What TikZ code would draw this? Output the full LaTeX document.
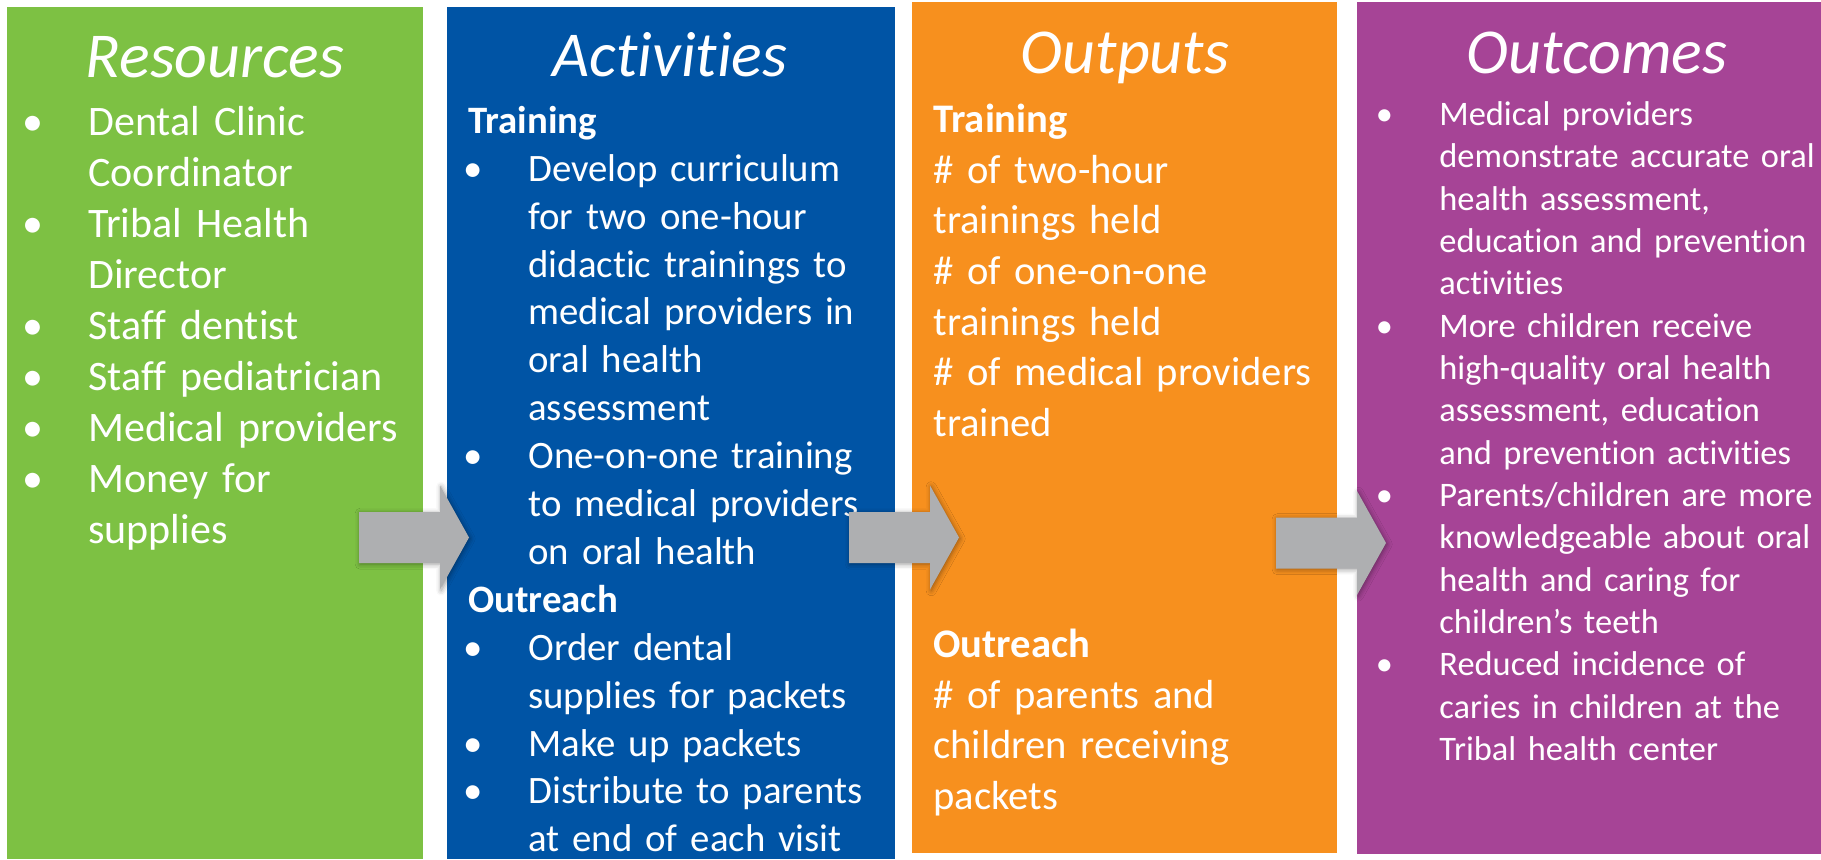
\documentclass[tikz,border=0pt]{standalone}
\usepackage{fontspec}
\setmainfont{Carlito}[Ligatures=NoCommon]
\usetikzlibrary{shadows.blur}

\definecolor{resgreen}{RGB}{125,193,67}
\definecolor{actblue}{RGB}{0,84,165}
\definecolor{outorange}{RGB}{247,144,30}
\definecolor{ocpurple}{RGB}{166,68,150}
\definecolor{arrowgray}{RGB}{174,175,177}

% bullet item: bullet hangs left, wrapped lines keep the indent
\newcommand\itm[1]{\par\noindent\hangindent=30pt\hangafter=0%
  \llap{\makebox[55pt][c]{\textbullet}}\strut#1}
\newcommand\hd[1]{\par\noindent\strut\textbf{#1}}

\tikzset{
  box/.style={fill=#1, inner sep=0pt, anchor=south west},
  title/.style={anchor=base, text=white, font=\fontsize{32}{38}\selectfont\itshape},
  body/.style={anchor=north west, inner sep=0pt, text=white, text width=#1, align=left},
  fatarrow/.pic={
    \fill[arrowgray, blur shadow={shadow xshift=0.6pt, shadow yshift=-0.6pt, shadow blur radius=2.5pt}]
      (0,25.5) -- (81,25.5) -- (81,52) -- (110,0) -- (81,-52) -- (81,-25.5) -- (0,-25.5) -- cycle;
  }
}

\begin{document}
\begin{tikzpicture}[x=0.5pt, y=0.5pt]
    \useasboundingbox (0,0) rectangle (1821,859);

    % the four columns
    \node[box=resgreen, minimum width=208pt, minimum height=426pt] (res) at (7,0) {};
    \node[box=actblue, minimum width=224pt, minimum height=426pt] (act) at (447,0) {};
    \node[box=outorange, minimum width=212.5pt, minimum height=425.5pt] (outp) at (912,6) {};
    \node[box=ocpurple, minimum width=232pt, minimum height=426pt] (outc) at (1357,5) {};

    % headings
    \node[title] (resTitle) at (215,781) {Resources};
    \node[title] (actTitle) at (670,782) {Activities};
    \node[title] (outpTitle) at (1125,785) {Outputs};
    \node[title] (outcTitle) at (1597,785) {Outcomes};

    % column texts
    \node[body=200pt, font=\fontsize{21}{25.5}\selectfont] (resText) at (28,775) {%
        \itm{Dental Clinic\newline Coordinator}
        \itm{Tribal Health\newline Director}
        \itm{Staff dentist}
        \itm{Staff pediatrician}
        \itm{Medical providers}
        \itm{Money for\newline supplies}\par};
    \node[body=220pt, font=\fontsize{19.4}{23.95}\selectfont] (actText) at (468,773.9) {%
        \hd{Training}
        \itm{Develop curriculum\newline for two one-hour\newline didactic trainings to\newline
             medical providers in\newline oral health\newline assessment}
        \itm{One-on-one training\newline to medical providers\newline on oral health}
        \hd{Outreach}
        \itm{Order dental\newline supplies for packets}
        \itm{Make up packets}
        \itm{Distribute to parents\newline at end of each visit}\par};
    \node[body=220pt, font=\fontsize{20.3}{25.35}\selectfont] (outpTrain) at (933,777.7) {%
        \hd{Training}
        \par\noindent\strut\# of two-hour\newline trainings held\newline
        \# of one-on-one\newline trainings held\newline
        \# of medical providers\newline trained\par};
    \node[body=220pt, font=\fontsize{20.3}{25.35}\selectfont] (outpReach) at (933,252.7) {%
        \hd{Outreach}
        \par\noindent\strut\# of parents and\newline children receiving\newline packets\par};
    \node[body=230pt, font=\fontsize{17.2}{21.17}\selectfont] (outcText) at (1379,776.3) {%
        \itm{Medical providers\newline demonstrate accurate oral\newline health assessment,\newline
             education and prevention\newline activities}
        \itm{More children receive\newline high-quality oral health\newline assessment, education\newline
             and prevention activities}
        \itm{Parents/children are more\newline knowledgeable about oral\newline health and caring for\newline
             children’s teeth}
        \itm{Reduced incidence of\newline caries in children at the\newline Tribal health center}\par};

    % gray block arrows between the columns
    \pic at (359,321.5) {fatarrow};
    \pic at (849,321.5) {fatarrow};
    \pic at (1276,316) {fatarrow};
\end{tikzpicture}
\end{document}
